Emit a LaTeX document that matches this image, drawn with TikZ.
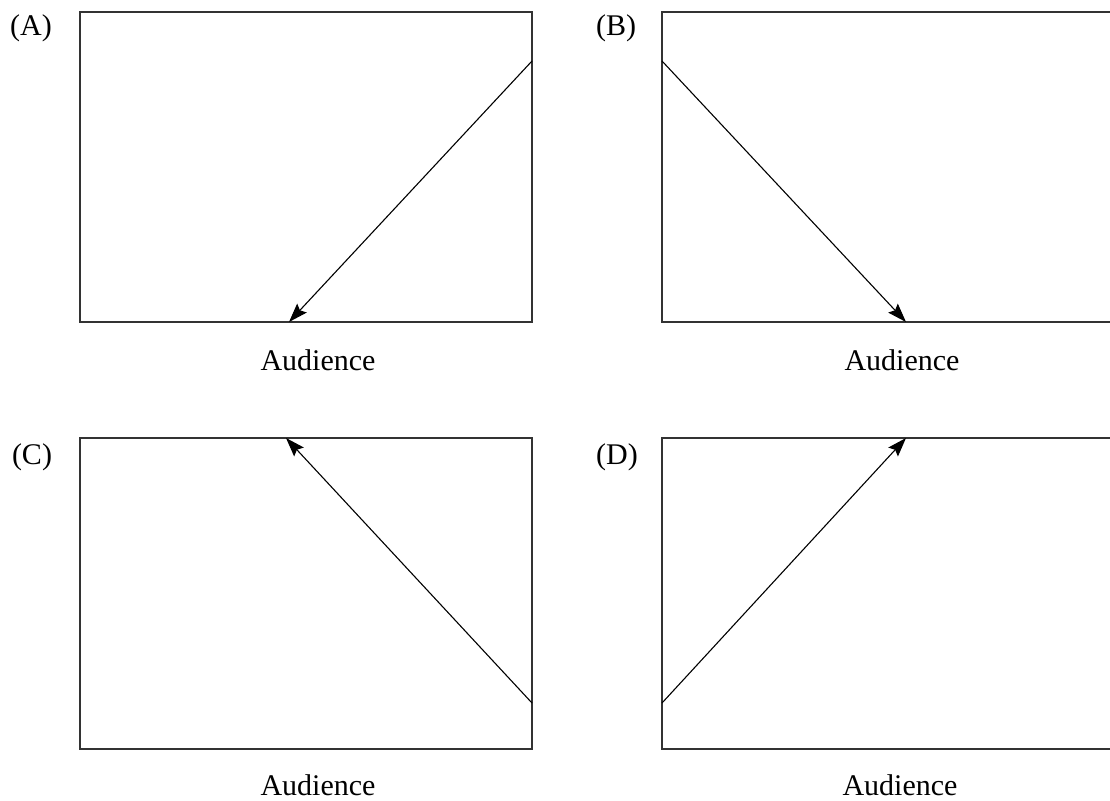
\documentclass[tikz,border=0pt]{standalone}
\usepackage{fontspec}
\setmainfont{Liberation Serif}
\usetikzlibrary{arrows.meta}
\begin{document}
\begin{tikzpicture}[x=1pt,y=-1pt,
  frame/.style={draw=black!80, line width=1.4pt},
  ray/.style={draw=black, line width=1.1pt, -{Stealth[length=19pt,width=13pt,inset=3pt]}},
  lbl/.style={anchor=base, inner sep=0pt, font=\fontsize{30}{36}\selectfont},
]
\useasboundingbox (0,0) rectangle (1110,800);
% frames
\draw[frame] (80,12) rectangle (532,322);
\draw[frame] (1112,12) -- (662,12) -- (662,322) -- (1112,322);
\draw[frame] (80,438) rectangle (532,749);
\draw[frame] (1112,438) -- (662,438) -- (662,749) -- (1112,749);
% labels
\node[lbl] (la) at (31,36) {(A)};
\node[lbl] (lb) at (616,36) {(B)};
\node[lbl] (lc) at (32,464) {(C)};
\node[lbl] (ld) at (617,464) {(D)};
\node[lbl] (aa) at (318,370) {Audience};
\node[lbl] (ab) at (902,370) {Audience};
\node[lbl] (ac) at (318,795) {Audience};
\node[lbl] (ad) at (900,795) {Audience};
% ray end points
\coordinate (a1) at (532,61);
\coordinate (a2) at (289,322);
\coordinate (b1) at (662,61);
\coordinate (b2) at (906,322);
\coordinate (c1) at (532,703);
\coordinate (c2) at (286,438);
\coordinate (d1) at (662,703);
\coordinate (d2) at (906,438);
\draw[ray] (a1) -- (a2);
\draw[ray] (b1) -- (b2);
\draw[ray] (c1) -- (c2);
\draw[ray] (d1) -- (d2);
\end{tikzpicture}
\end{document}
